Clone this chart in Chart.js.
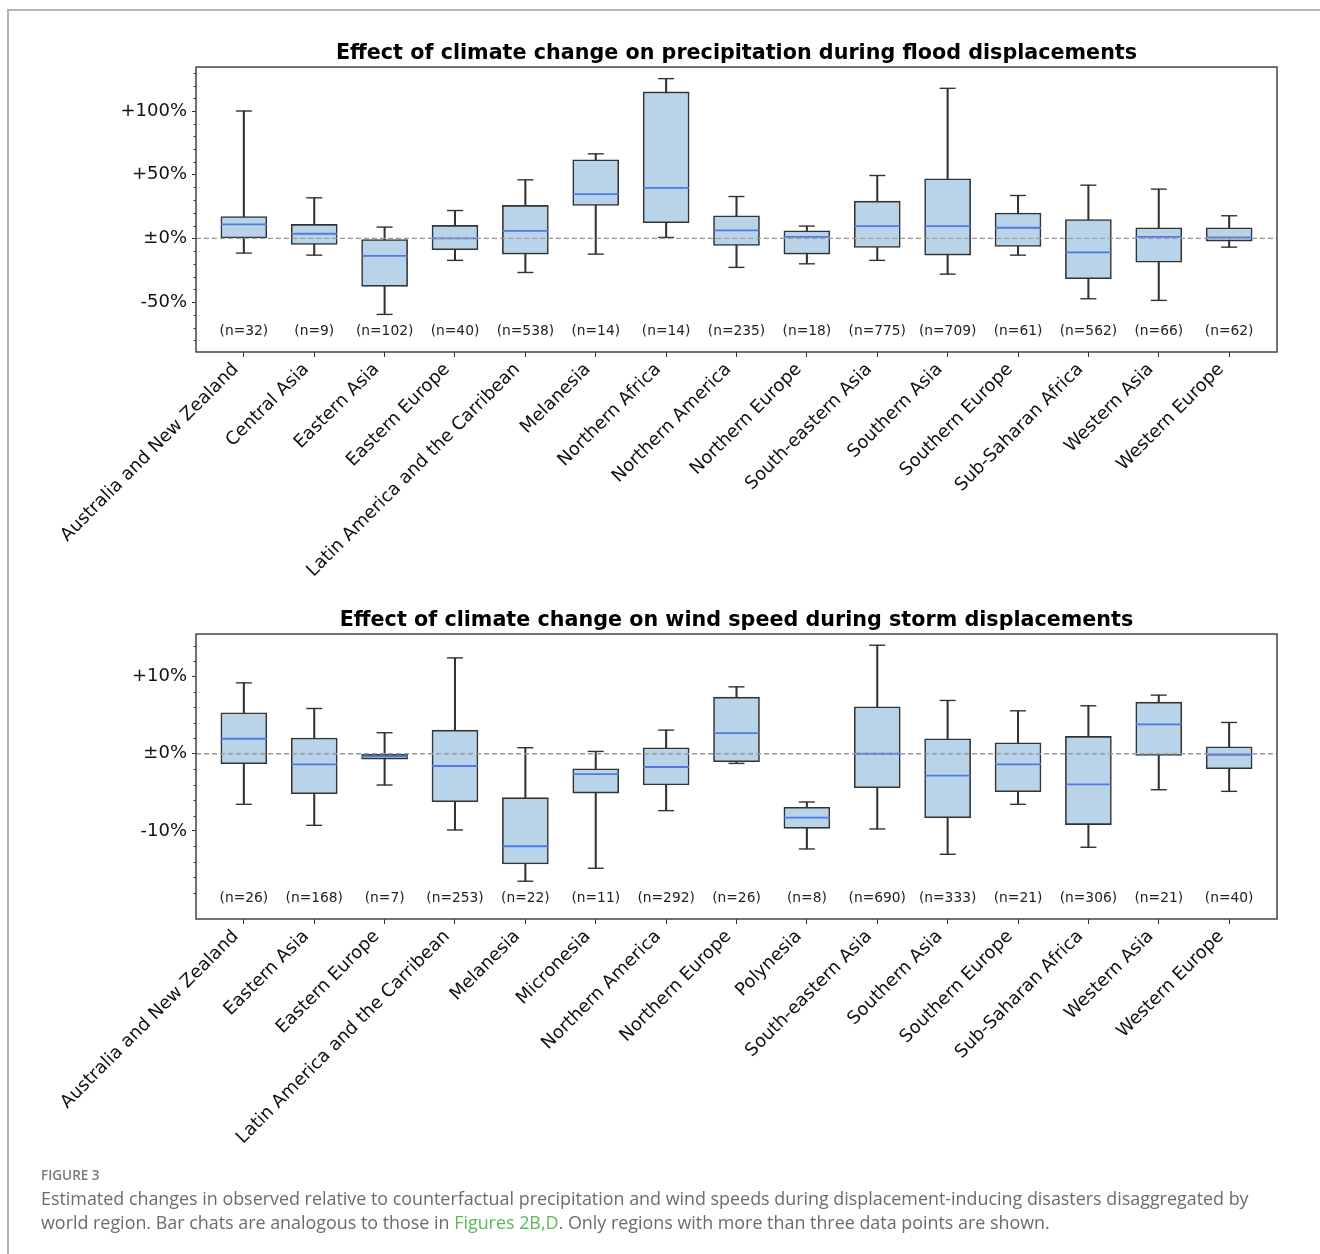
<!DOCTYPE html>
<html>
<head>
<meta charset="utf-8">
<script src="https://cdn.jsdelivr.net/npm/chart.js@4.4.1/dist/chart.umd.min.js"></script>
<style>
html, body { margin: 0; padding: 0; background: #fff; }
body { width: 1320px; height: 1254px; position: relative; overflow: hidden; }
#frame { position: absolute; left: 7px; top: 9px; width: 1400px; height: 1400px; border-left: 2px solid #b5b5b5; border-top: 2px solid #b5b5b5; }
.wrap { position: absolute; left: 0; width: 1320px; height: 600px; }
#caption { position: absolute; left: 41px; top: 1166px; width: 1275px; font-family: "Open Sans", Lato, sans-serif; color: #6b6b6b; }
#caption .fig { font-size: 13.5px; font-weight: 600; color: #7a7a7a; margin-bottom: 2px; }
#caption .txt { font-size: 17.9px; line-height: 24px; white-space: nowrap; }
#caption .lnk { color: #5cb85c; }
</style>
</head>
<body>
<div id="frame"></div>
<div class="wrap" style="top:0px"><canvas id="precipChart"></canvas></div>
<div class="wrap" style="top:567px"><canvas id="windChart"></canvas></div>
<div id="caption">
  <div class="fig">FIGURE 3</div>
  <div class="txt">Estimated changes in observed relative to counterfactual precipitation and wind speeds during displacement-inducing disasters disaggregated by<br>world region. Bar chats are analogous to those in <span class="lnk">Figures 2B,D</span>. Only regions with more than three data points are shown.</div>
</div>
<script>
// precipitation during floods (%)
const precipRegions = ['Australia and New Zealand', 'Central Asia', 'Eastern Asia', 'Eastern Europe',
  'Latin America and the Carribean', 'Melanesia', 'Northern Africa', 'Northern America', 'Northern Europe',
  'South-eastern Asia', 'Southern Asia', 'Southern Europe', 'Sub-Saharan Africa', 'Western Asia', 'Western Europe'];
const precipN = [32, 9, 102, 40, 538, 14, 14, 235, 18, 775, 709, 61, 562, 66, 62];
const precipLow = [-11.5, -13.1, -59.6, -17.2, -26.7, -12.3, 0.8, -22.7, -19.9, -17.2, -28.0, -13.1, -47.3, -48.6, -6.8];
const precipQ1 = [0, -4.7, -37.6, -8.9, -12.3, 25.9, 12.3, -5.5, -12.3, -7.1, -13.1, -6.3, -31.6, -18.6, -2.1];
const precipMed = [11.0, 3.7, -13.6, 0, 6.0, 34.8, 39.7, 6.3, 1.3, 9.7, 9.7, 8.4, -11.0, 1.3, 0.8];
const precipQ3 = [17.2, 11.0, -0.8, 10.2, 25.9, 61.7, 115.0, 17.8, 6.0, 29.3, 46.8, 19.9, 14.9, 8.4, 8.4];
const precipHigh = [100, 31.9, 8.9, 21.9, 46.0, 66.4, 125.4, 32.9, 9.7, 49.4, 117.8, 33.7, 41.8, 38.7, 17.8];

// wind speed during storms (%)
const windRegions = ['Australia and New Zealand', 'Eastern Asia', 'Eastern Europe', 'Latin America and the Carribean',
  'Melanesia', 'Micronesia', 'Northern America', 'Northern Europe', 'Polynesia', 'South-eastern Asia',
  'Southern Asia', 'Southern Europe', 'Sub-Saharan Africa', 'Western Asia', 'Western Europe'];
const windN = [26, 168, 7, 253, 22, 11, 292, 26, 8, 690, 333, 21, 306, 21, 40];
const windLow = [-6.55, -9.27, -4.05, -9.87, -16.51, -14.83, -7.37, -1.25, -12.33, -9.74, -13.02, -6.55, -12.11, -4.66, -4.87];
const windQ1 = [-1.29, -5.17, -0.69, -6.21, -14.27, -5.09, -4.05, -1.03, -9.66, -4.40, -8.28, -4.91, -9.18, -0.22, -1.94];
const windMed = [1.94, -1.38, -0.34, -1.59, -11.98, -2.63, -1.72, 2.67, -8.28, 0, -2.84, -1.38, -3.97, 3.79, -0.13];
const windQ3 = [5.30, 2.03, -0.09, 3.06, -5.69, -1.94, 0.78, 7.33, -6.94, 6.08, 1.94, 1.42, 2.24, 6.68, 0.91];
const windHigh = [9.18, 5.86, 2.72, 12.41, 0.78, 0.30, 3.06, 8.66, -6.25, 14.05, 6.90, 5.56, 6.21, 7.59, 4.05];

const INK = '#333333';

function pctLabel(v) {
  if (v === 0) return '\u00b10%';
  return (v > 0 ? '+' : '') + v + '%';
}

const boxExtras = {
  id: 'boxExtras',
  afterDatasetsDraw(chart, args, opts) {
    const { ctx, chartArea: a, scales: { x, y } } = chart;
    ctx.save();
    // dashed zero line, on top of the boxes
    ctx.strokeStyle = '#9a9a9a';
    ctx.lineWidth = 1.3;
    ctx.setLineDash([5, 3]);
    const y0 = y.getPixelForValue(0);
    ctx.beginPath(); ctx.moveTo(a.left, y0); ctx.lineTo(a.right, y0); ctx.stroke();
    ctx.setLineDash([]);
    // minor ticks
    ctx.strokeStyle = INK;
    ctx.lineWidth = 1;
    for (let v = Math.ceil(y.min / opts.minor) * opts.minor; v <= y.max; v += opts.minor) {
      if (Math.abs(v % opts.major) < 1e-9) continue;
      const py = Math.round(y.getPixelForValue(v)) + 0.5;
      ctx.beginPath(); ctx.moveTo(a.left - 2.5, py); ctx.lineTo(a.left, py); ctx.stroke();
    }
    // frame
    ctx.strokeStyle = '#444';
    ctx.lineWidth = 1.5;
    ctx.strokeRect(a.left, a.top, a.right - a.left, a.bottom - a.top);
    // counts
    ctx.fillStyle = '#222';
    ctx.font = '13.8px "DejaVu Sans"';
    ctx.textAlign = 'center';
    ctx.textBaseline = 'middle';
    opts.counts.forEach((n, i) => {
      ctx.fillText('(n=' + n + ')', x.getPixelForValue(i), y.getPixelForValue(opts.countAt));
    });
    ctx.restore();
  }
};

function makeChart(id, title, regions, low, q1, med, q3, high, counts, yCfg) {
  const idx = regions.map((r, i) => i);
  const pts = arr => arr.map((v, i) => ({ x: i, y: v }));
  new Chart(document.getElementById(id), {
    data: {
      datasets: [
        { type: 'line', data: pts(med), showLine: false, pointStyle: 'line', pointRadius: 23,
          pointBorderColor: '#4f79e3', pointBorderWidth: 1.8, order: 1 },
        { type: 'line', data: pts(high), showLine: false, pointStyle: 'line', pointRadius: 8,
          pointBorderColor: INK, pointBorderWidth: 1.4, order: 2 },
        { type: 'line', data: pts(low), showLine: false, pointStyle: 'line', pointRadius: 8,
          pointBorderColor: INK, pointBorderWidth: 1.4, order: 2 },
        { type: 'bar', data: idx.map(i => ({ x: i, y: [q1[i], q3[i]] })), grouped: false, barThickness: 46,
          backgroundColor: '#b9d4e8', borderColor: INK, borderWidth: 1.6, borderSkipped: false, order: 3 },
        { type: 'bar', data: idx.map(i => ({ x: i, y: [low[i], high[i]] })), grouped: false, barThickness: 1.4,
          backgroundColor: INK, borderWidth: 0, order: 4 }
      ]
    },
    options: {
      responsive: false,
      animation: false,
      events: [],
      layout: { padding: { left: 0, right: 43, top: 0, bottom: 0 } },
      plugins: {
        legend: { display: false },
        tooltip: { enabled: false },
        title: { display: true, fullSize: false, text: title, color: '#000',
          font: { family: 'DejaVu Sans', size: 20.7, weight: 'bold' }, padding: { top: 41.6, bottom: 0.6 } },
        boxExtras: { counts: counts, countAt: yCfg.countAt, minor: yCfg.minor, major: yCfg.major }
      },
      scales: {
        x: {
          type: 'linear', offset: false, min: -0.68, max: regions.length - 1 + 0.68,
          afterBuildTicks: axis => { axis.ticks = idx.map(i => ({ value: i })); },
          afterFit: axis => { axis.height = 248; },
          grid: { display: true, offset: false, drawOnChartArea: false, tickLength: 5, tickColor: INK },
          border: { display: false },
          ticks: { autoSkip: false, maxRotation: 45, minRotation: 45, padding: 2, labelOffset: -8, color: '#111',
            font: { family: 'DejaVu Sans', size: 18 }, callback: v => regions[v] }
        },
        y: {
          min: yCfg.min, max: yCfg.max,
          afterBuildTicks: axis => { axis.ticks = yCfg.ticks.map(v => ({ value: v })); },
          afterFit: axis => { axis.width = 196; },
          grid: { display: true, drawOnChartArea: false, tickLength: 4, tickColor: INK },
          border: { display: false },
          ticks: { padding: 5, color: '#111', font: { family: 'DejaVu Sans', size: 18 }, callback: v => pctLabel(v) }
        }
      }
    },
    plugins: [boxExtras]
  });
}

function sizeCanvas(id) {
  const c = document.getElementById(id);
  c.width = 1320; c.height = 600;
  c.style.width = '1320px'; c.style.height = '600px';
}
sizeCanvas('precipChart');
sizeCanvas('windChart');

makeChart('precipChart', 'Effect of climate change on precipitation during flood displacements',
  precipRegions, precipLow, precipQ1, precipMed, precipQ3, precipHigh, precipN,
  { min: -89.1, max: 134.5, ticks: [-50, 0, 50, 100], major: 50, minor: 10, countAt: -73.2 });

makeChart('windChart', 'Effect of climate change on wind speed during storm displacements',
  windRegions, windLow, windQ1, windMed, windQ3, windHigh, windN,
  { min: -21.4, max: 15.5, ticks: [-10, 0, 10], major: 10, minor: 2, countAt: -18.7 });
</script>
</body>
</html>
